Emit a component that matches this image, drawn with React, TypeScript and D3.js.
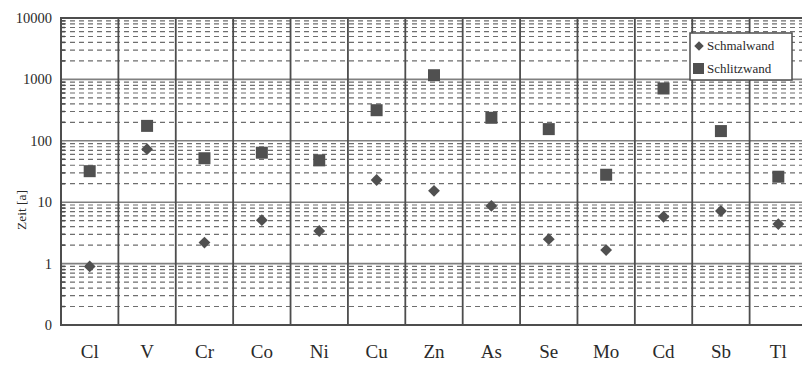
import { useEffect, useRef } from "react";
import * as d3 from "d3";

const elements = ["Cl", "V", "Cr", "Co", "Ni", "Cu", "Zn", "As", "Se", "Mo", "Cd", "Sb", "Tl"];
const schmalwand = [0.9, 73, 2.2, 5.1, 3.4, 23, 15.3, 8.7, 2.5, 1.66, 5.8, 7.2, 4.4];
const schlitzwand = [32, 175, 52, 64, 48, 315, 1170, 237, 155, 28, 711, 144, 26];
const yTicks = [0.1, 1, 10, 100, 1000, 10000];
const yTickLabels = ["0", "1", "10", "100", "1000", "10000"];

const App = () => {
  const ref = useRef<SVGSVGElement>(null);

  useEffect(() => {
    const width = 802;
    const height = 365;
    const margin = { top: 18, right: -5, bottom: 40, left: 61 };
    const font = "Liberation Serif, DejaVu Serif, serif";

    const svg = d3.select(ref.current);
    svg.selectAll("*").remove();

    const x = d3.scaleBand()
      .domain(elements)
      .range([margin.left, width - margin.right]);

    const y = d3.scaleLog()
      .domain([0.1, 10000])
      .range([height - margin.bottom, margin.top]);

    // Nebenlinien (2..9 pro Dekade)
    const minor: number[] = [];
    for (let e = -1; e < 4; e++) {
      for (let m = 2; m <= 9; m++) minor.push(m * Math.pow(10, e));
    }

    svg.append("g")
      .selectAll("line")
      .data(minor)
      .enter()
      .append("line")
      .attr("x1", margin.left)
      .attr("x2", width - margin.right)
      .attr("y1", d => y(d))
      .attr("y2", d => y(d))
      .attr("stroke", "#6e6e6e")
      .attr("stroke-width", 1.2)
      .attr("stroke-dasharray", "5,4");

    // Hauptlinien
    svg.append("g")
      .selectAll("line")
      .data(yTicks)
      .enter()
      .append("line")
      .attr("x1", margin.left)
      .attr("x2", width - margin.right)
      .attr("y1", d => y(d))
      .attr("y2", d => y(d))
      .attr("stroke", "#808080")
      .attr("stroke-width", 1.6);

    // Trennlinien zwischen Kategorien
    svg.append("g")
      .selectAll("line")
      .data(elements)
      .enter()
      .append("line")
      .attr("x1", d => x(d)! + x.bandwidth())
      .attr("x2", d => x(d)! + x.bandwidth())
      .attr("y1", y(10000))
      .attr("y2", y(0.1))
      .attr("stroke", "#4d4d4d")
      .attr("stroke-width", 1.8);

    // Rahmen
    svg.append("rect")
      .attr("x", margin.left)
      .attr("y", y(10000))
      .attr("width", width - margin.right - margin.left)
      .attr("height", y(0.1) - y(10000))
      .attr("fill", "none")
      .attr("stroke", "#4d4d4d")
      .attr("stroke-width", 2);

    // Ticks links
    svg.append("g")
      .selectAll("line")
      .data(minor)
      .enter()
      .append("line")
      .attr("x1", margin.left)
      .attr("x2", margin.left + 4)
      .attr("y1", d => y(d))
      .attr("y2", d => y(d))
      .attr("stroke", "#4d4d4d")
      .attr("stroke-width", 1.5);

    // Y-Beschriftung
    svg.append("g")
      .selectAll("text")
      .data(yTicks)
      .enter()
      .append("text")
      .attr("x", margin.left - 9)
      .attr("y", d => y(d))
      .attr("dy", "0.35em")
      .attr("text-anchor", "end")
      .attr("font-family", font)
      .attr("font-size", 14.5)
      .attr("fill", "#2a2a2a")
      .text((_, i) => yTickLabels[i]);

    svg.append("text")
      .attr("transform", `translate(26,210) rotate(-90)`)
      .attr("text-anchor", "middle")
      .attr("font-family", font)
      .attr("font-size", 13.5)
      .attr("fill", "#2a2a2a")
      .text("Zeit [a]");

    // Kategorien
    svg.append("g")
      .selectAll("text")
      .data(elements)
      .enter()
      .append("text")
      .attr("x", d => x(d)! + x.bandwidth() / 2)
      .attr("y", 358)
      .attr("text-anchor", "middle")
      .attr("font-family", font)
      .attr("font-size", 19)
      .attr("fill", "#2a2a2a")
      .text(d => d);

    const sq = 12;

    // Schlitzwand
    svg.append("g")
      .selectAll("rect")
      .data(schlitzwand)
      .enter()
      .append("rect")
      .attr("x", (_, i) => x(elements[i])! + x.bandwidth() / 2 - sq / 2)
      .attr("y", d => y(d) - sq / 2)
      .attr("width", sq)
      .attr("height", sq)
      .attr("fill", "#505050");

    // Schmalwand
    svg.append("g")
      .selectAll("path")
      .data(schmalwand)
      .enter()
      .append("path")
      .attr("d", d3.symbol().type(d3.symbolSquare).size(70)())
      .attr("transform", (d, i) =>
        `translate(${x(elements[i])! + x.bandwidth() / 2},${y(d)}) rotate(45)`)
      .attr("fill", "#505050");

    // Legende
    const lg = svg.append("g").attr("transform", "translate(690,33)");
    lg.append("rect")
      .attr("width", 102)
      .attr("height", 47)
      .attr("fill", "white")
      .attr("stroke", "#4d4d4d")
      .attr("stroke-width", 1.5);
    lg.append("path")
      .attr("d", d3.symbol().type(d3.symbolSquare).size(45)())
      .attr("transform", "translate(9,13) rotate(45)")
      .attr("fill", "#505050");
    lg.append("rect")
      .attr("x", 3)
      .attr("y", 30)
      .attr("width", 11)
      .attr("height", 11)
      .attr("fill", "#505050");
    lg.append("text")
      .attr("x", 17)
      .attr("y", 17)
      .attr("font-family", font)
      .attr("font-size", 13)
      .attr("fill", "#2a2a2a")
      .text("Schmalwand");
    lg.append("text")
      .attr("x", 17)
      .attr("y", 40)
      .attr("font-family", font)
      .attr("font-size", 13)
      .attr("fill", "#2a2a2a")
      .text("Schlitzwand");
  }, []);

  return (
    <svg
      ref={ref}
      width={802}
      height={365}
      style={{ position: "absolute", left: 0, top: 0, background: "white" }}
    />
  );
};

export default App;
